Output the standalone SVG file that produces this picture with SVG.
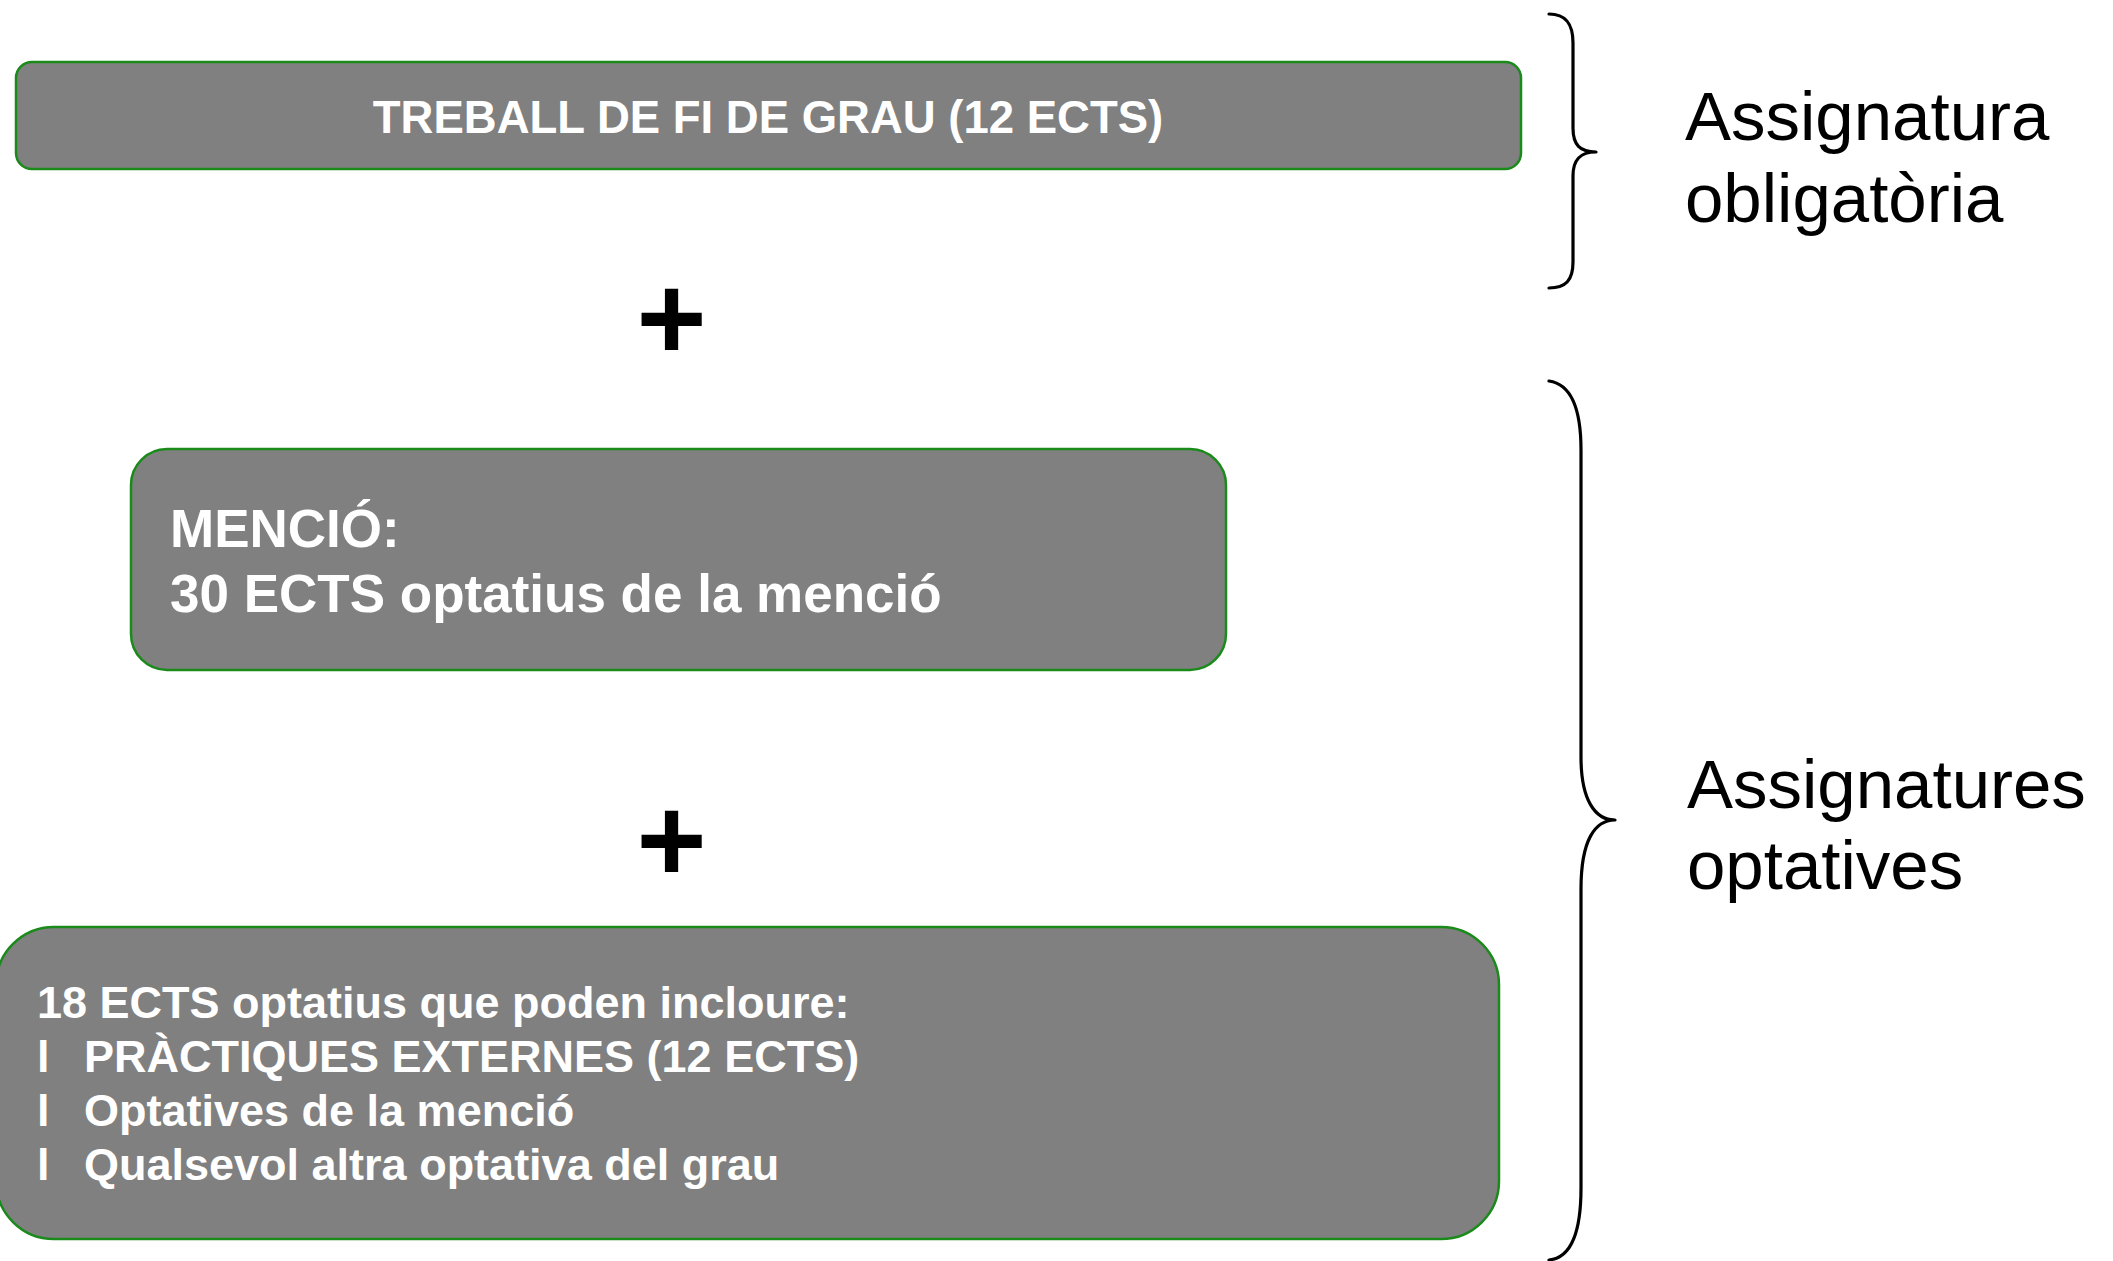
<svg xmlns="http://www.w3.org/2000/svg" width="2113" height="1261" viewBox="0 0 2113 1261">
<style>
.box{fill:#808080;stroke:#1a8a1a;stroke-width:2.5}
.bt{fill:#ffffff;font-family:"Liberation Sans",Arial,sans-serif;font-weight:bold}
.lbl{fill:#000000;font-family:"Liberation Sans",Arial,sans-serif;font-size:69px}
.plus{fill:#000000;font-family:"Liberation Sans",Arial,sans-serif;font-weight:bold;font-size:120px;text-anchor:middle}
.brace{fill:none;stroke:#000000;stroke-width:3.2;stroke-linecap:round;stroke-linejoin:round}
</style>
<rect width="2113" height="1261" fill="#ffffff"/>
<g id="node-tfg">
<rect class="box" x="16" y="62" width="1505" height="107" rx="16" ry="16"/>
<text class="bt" x="768" y="133" font-size="45.5" text-anchor="middle">TREBALL DE FI DE GRAU (12 ECTS)</text>
</g>
<g id="node-mencio">
<rect class="box" x="131" y="449" width="1095" height="221" rx="36" ry="36"/>
<text class="bt" x="170" y="547" font-size="53">MENCIÓ:</text>
<text class="bt" x="170" y="612" font-size="53">30 ECTS optatius de la menció</text>
</g>
<g id="node-optatius">
<rect class="box" x="-4" y="927" width="1503" height="312" rx="58" ry="58"/>
<text class="bt" x="37" y="1018" font-size="45">18 ECTS optatius que poden incloure:</text>
<text class="bt" x="37" y="1072" font-size="45">l</text>
<text class="bt" x="84" y="1072" font-size="45">PRÀCTIQUES EXTERNES (12 ECTS)</text>
<text class="bt" x="37" y="1126" font-size="45">l</text>
<text class="bt" x="84" y="1126" font-size="45">Optatives de la menció</text>
<text class="bt" x="37" y="1180" font-size="45">l</text>
<text class="bt" x="84" y="1180" font-size="45">Qualsevol altra optativa del grau</text>
</g>
<g id="plus-1"><text class="plus" x="671.5" y="360">+</text></g>
<g id="plus-2"><text class="plus" x="671.5" y="882">+</text></g>
<g id="connectors">
<path class="brace" d="M1549,14 C1566,14 1573,24 1573,43 L1573,128 C1573,145 1580,152 1596,152 C1580,152 1573,160 1573,176 L1573,262 C1573,280 1566,288 1549,288"/>
<path class="brace" d="M1549,381 C1570,384 1581,405 1581,450 L1581,757 C1581,800 1595,820 1615,820 C1595,820 1581,840 1581,889 L1581,1188 C1581,1235 1570,1258 1549,1260"/>
</g>
<g id="label-obligatoria">
<text class="lbl" x="1685" y="140">Assignatura</text>
<text class="lbl" x="1685" y="222">obligatòria</text>
</g>
<g id="label-optatives">
<text class="lbl" x="1687" y="808">Assignatures</text>
<text class="lbl" x="1687" y="889">optatives</text>
</g>
</svg>
